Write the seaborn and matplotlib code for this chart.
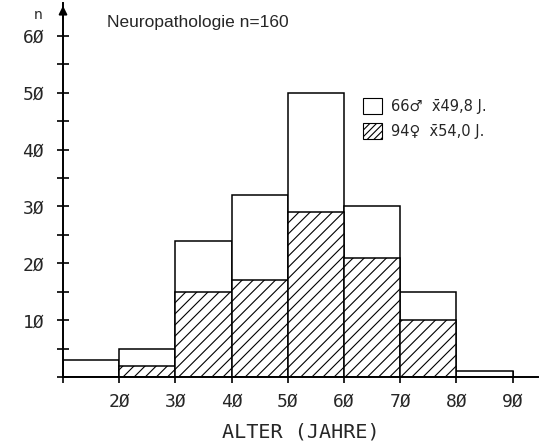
import matplotlib
matplotlib.use('Agg')
import matplotlib.pyplot as plt
from matplotlib.patches import Patch
import seaborn as sns

# Altersklassen (linke Kante) und Fallzahlen
bin_left = [10, 20, 30, 40, 50, 60, 70, 80]
total = [3, 5, 24, 32, 50, 30, 15, 1]
female = [0, 2, 15, 17, 29, 21, 10, 0]
edges = [10, 20, 30, 40, 50, 60, 70, 80, 90]

x_ticks = [10, 20, 30, 40, 50, 60, 70, 80, 90]
x_labels = ['', '2Ø', '3Ø', '4Ø', '5Ø', '6Ø', '7Ø', '8Ø', '9Ø']
y_ticks = [0, 10, 20, 30, 40, 50, 60]
y_labels = ['', '1Ø', '2Ø', '3Ø', '4Ø', '5Ø', '6Ø']
y_minor = [5, 15, 25, 35, 45, 55]

legend_labels = ['66\u2642  x\u030449,8 J.', '94\u2640  x\u030454,0 J.']

sns.set_style('ticks')
plt.rcParams['font.family'] = ['DejaVu Sans']
plt.rcParams['hatch.linewidth'] = 0.8
mono = ['DejaVu Sans Mono', 'DejaVu Sans']

fig = plt.figure(figsize=(5.39, 4.44), dpi=100)
ax = fig.add_axes([63 / 539, 67 / 444, 475 / 539, 374 / 444])

centers = [b + 5 for b in bin_left]

# Gesamt (weiss), dann Frauen schraffiert darueber
sns.histplot(x=centers, weights=total, bins=edges, color='white',
             edgecolor='black', linewidth=1.1, alpha=1, ax=ax)
n_before = len(ax.patches)
sns.histplot(x=centers, weights=female, bins=edges, color='white',
             edgecolor='black', linewidth=1.1, alpha=1, ax=ax)
for p in ax.patches[n_before:]:
    p.set_hatch('///')

ax.set_xlim(10, 94.5)
ax.set_ylim(0, 65.8)

ax.set_xticks(x_ticks)
ax.set_xticklabels(x_labels, fontsize=13, family=mono)
ax.set_yticks(y_ticks)
ax.set_yticklabels(y_labels, fontsize=13, family=mono)
ax.set_yticks(y_minor, minor=True)
ax.tick_params(axis='both', which='both', direction='inout', length=9,
               width=1.2, color='black')
ax.tick_params(axis='x', pad=7)
ax.tick_params(axis='y', pad=9)

sns.despine(ax=ax)
for s in ['left', 'bottom']:
    ax.spines[s].set_linewidth(1.4)
    ax.spines[s].set_color('black')

ax.annotate('', xy=(0, 1.0), xytext=(0, 0.95), xycoords='axes fraction',
            arrowprops=dict(arrowstyle='-|>', color='black', lw=1.4,
                            mutation_scale=12))

ax.set_xlabel('ALTER (JAHRE)', fontsize=14.5, labelpad=8, family=mono)
ax.set_ylabel('')

fig.text(38 / 539, 1 - 15 / 444, 'n', fontsize=10, ha='center', va='center')
fig.text(107 / 539, 1 - 22 / 444, 'Neuropathologie n=160', fontsize=12.5,
         ha='left', va='center',
         family=['Liberation Sans Narrow', 'Liberation Sans', 'DejaVu Sans'])

handles = [Patch(facecolor='white', edgecolor='black', linewidth=0.8),
           Patch(facecolor='white', edgecolor='black', linewidth=0.8,
                 hatch='/////')]
fig.legend(handles, legend_labels, loc='upper left',
           bbox_to_anchor=(356 / 539, 1 - 91 / 444), frameon=False,
           handlelength=1.3, handleheight=1.3, handletextpad=0.6,
           labelspacing=0.6, borderpad=0, fontsize=10.5)

plt.savefig('out.png', dpi=100)
